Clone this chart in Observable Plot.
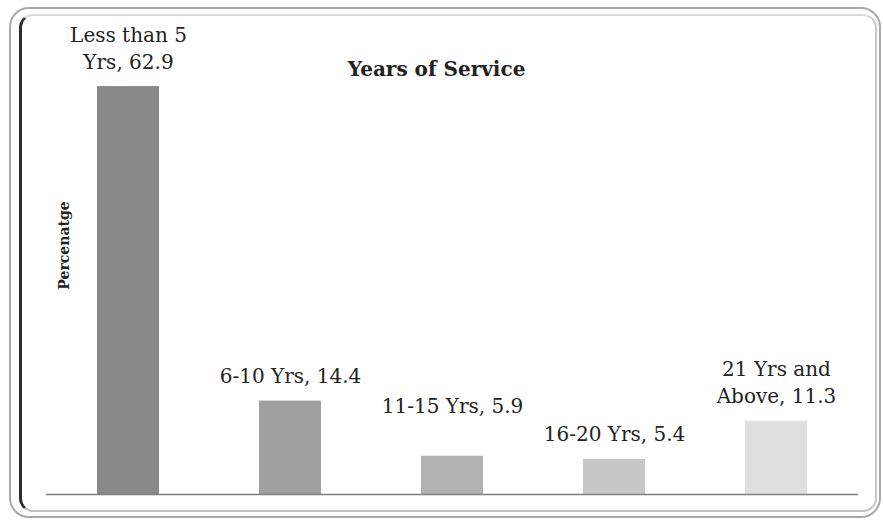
<!DOCTYPE html>
<html>
<head>
<meta charset="utf-8">
<script src="https://cdn.jsdelivr.net/npm/d3@7"></script>
<script src="https://cdn.jsdelivr.net/npm/@observablehq/plot@0.6"></script>
<style>
  html, body { margin: 0; padding: 0; background: #fff; }
  #wrap { position: relative; width: 883px; height: 523px; overflow: hidden; }
  .frame-outer {
    position: absolute; left: 9px; top: 7px; width: 872px; height: 511px;
    box-sizing: border-box; border: 2px solid #a9a9a9; border-radius: 20px;
  }
  .frame-inner {
    position: absolute; left: 19px; top: 14px; width: 858px; height: 498px;
    box-sizing: border-box; border-radius: 14px;
    border-left: 3px solid #2e2e2e; border-top: 2px solid #dadada;
    border-right: 2px solid #c8c8c8; border-bottom: 2px solid #c0c0c0;
  }
  #chart { position: absolute; left: 0; top: 0; }
  #chart svg text { font-family: "DejaVu Serif", "Liberation Serif", serif; }
</style>
</head>
<body>
<div id="wrap">
  <div class="frame-outer"></div>
  <div class="frame-inner"></div>
  <div id="chart"></div>
</div>
<script>
// Share of respondents by years of service
const categories = ["Less than 5 Yrs", "6-10 Yrs", "11-15 Yrs", "16-20 Yrs", "21 Yrs and Above"];
const percentages = [62.9, 14.4, 5.9, 5.4, 11.3];
const barColors = ["#898989", "#a0a0a0", "#b1b1b1", "#c7c7c7", "#e0e0e0"];
const chartTitle = "Years of Service";
const yLabel = "Percenatge";

const serif = "DejaVu Serif, Liberation Serif, serif";

// Long labels break before their last two words ("Yrs, 62.9", "Above, 11.3")
function labelText(category, value) {
  const words = `${category}, ${value}`.split(" ");
  if (words.length <= 3) return words.join(" ");
  return words.slice(0, -2).join(" ") + "\n" + words.slice(-2).join(" ");
}

const rows = categories.map((category, i) => ({
  category,
  value: percentages[i],
  label: labelText(category, percentages[i])
}));

// the 11-15 label sits higher above its bar than the others
const raised = (d) => d.category === "11-15 Yrs";

const labelStyle = {
  x: "category",
  y: "value",
  text: "label",
  lineAnchor: "bottom",
  lineHeight: 1.35,
  fontSize: 20,
  fontFamily: serif,
  fill: "#222"
};

const chart = Plot.plot({
  width: 883,
  height: 523,
  marginLeft: 46,
  marginRight: 25,
  marginTop: 40,
  marginBottom: 29,
  style: { background: "transparent", overflow: "visible" },
  x: { domain: categories, paddingInner: 0.615, paddingOuter: 0.3075, axis: null },
  y: { domain: [0, 70], axis: null },
  color: { domain: categories, range: barColors },
  marks: [
    Plot.barY(rows, { x: "category", y: "value", fill: "category" }),
    Plot.ruleY([0], { stroke: "#808080", strokeWidth: 1.5 }),
    Plot.text(rows.filter((d) => !raised(d)), { ...labelStyle, dy: -18 }),
    Plot.text(rows.filter(raised), { ...labelStyle, dy: -43 }),
    Plot.text([chartTitle], {
      frameAnchor: "top", dx: -16, dy: 35, lineAnchor: "bottom",
      fontSize: 20, fontWeight: "bold", fontFamily: serif, fill: "#222"
    }),
    Plot.text([yLabel], {
      frameAnchor: "left", textAnchor: "middle", rotate: -90, dx: 22, dy: -22,
      lineAnchor: "bottom", fontSize: 14, fontWeight: "bold", fontFamily: serif, fill: "#222"
    })
  ]
});

document.getElementById("chart").appendChild(chart);
</script>
</body>
</html>
